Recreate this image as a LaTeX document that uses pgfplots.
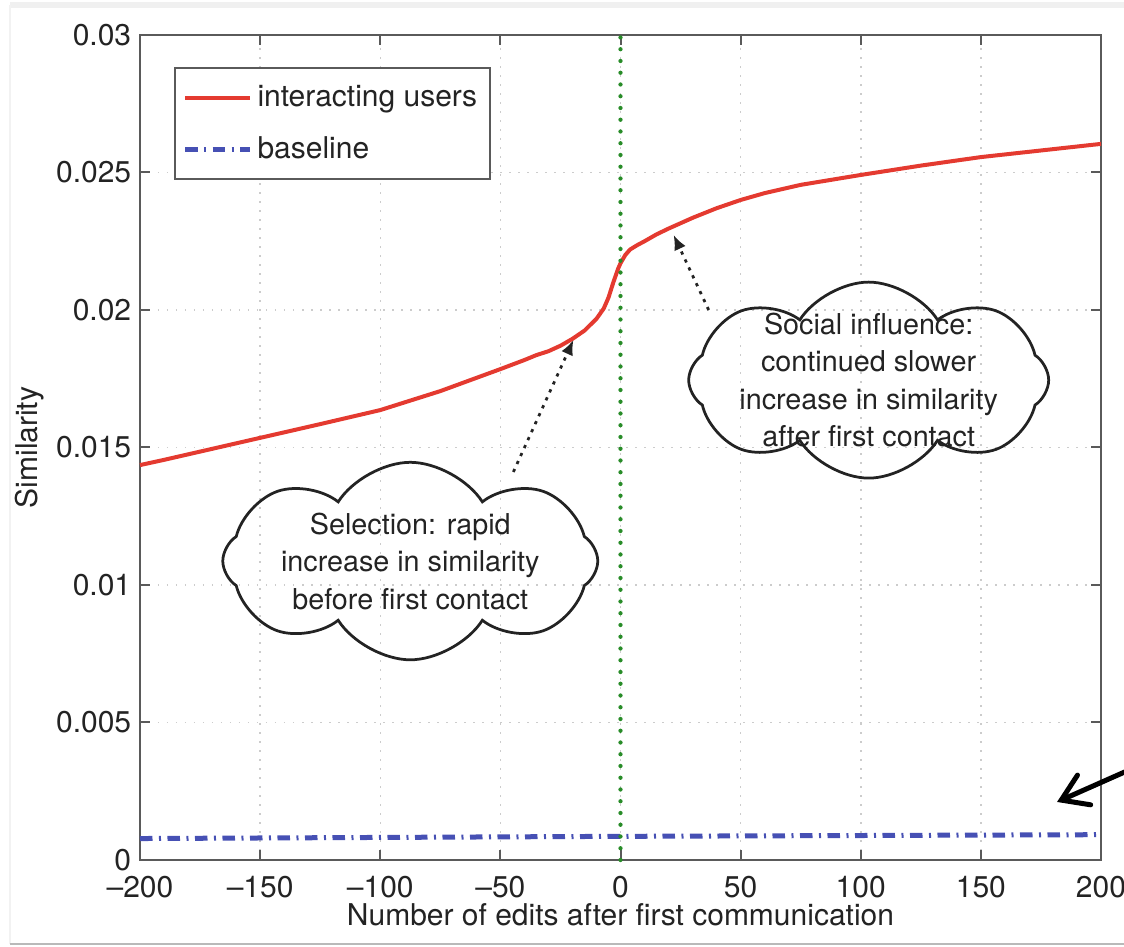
\documentclass[border=0pt]{standalone}
\usepackage{fontspec}
\setmainfont{TeX Gyre Heros}
\usepackage{pgfplots}
\pgfplotsset{compat=1.18}
\usetikzlibrary{shapes.symbols,arrows.meta}

\definecolor{redline}{RGB}{228,58,48}
\definecolor{blueline}{RGB}{70,80,180}
\definecolor{greenline}{RGB}{40,140,40}
\definecolor{axgray}{RGB}{90,90,90}
\definecolor{txt}{RGB}{35,35,35}

\begin{document}
\begin{tikzpicture}
\draw[gray!12, line width=2.4pt] (-52pt,342pt) -- (393.6pt,342pt);
\draw[gray!10, line width=0.8pt] (-52pt,342pt) -- (-52pt,-33.6pt);
\draw[gray!55, line width=1pt] (-52pt,-33.6pt) -- (393.6pt,-33.6pt);

\begin{axis}[
  at={(0pt,0pt)}, anchor=south west,
  scale only axis, width=384.4pt, height=330pt,
  xmin=-200, xmax=200, ymin=0, ymax=0.03,
  clip=false,
  xtick={-200,-150,-100,-50,0,50,100,150,200},
  xticklabels={\textendash200,\textendash150,\textendash100,\textendash50,0,50,100,150,200},
  ytick={0,0.005,0.01,0.015,0.02,0.025,0.03},
  yticklabels={0,0.005,0.01,0.015,0.02,0.025,0.03},
  scaled y ticks=false,
  /pgf/number format/assume math mode=true,
  tick align=inside, major tick length=4pt,
  axis line style={axgray, line width=0.9pt},
  every tick/.style={axgray, line width=0.8pt},
  grid=major,
  major grid style={gray!40, line width=0.6pt, dash pattern=on 0.6pt off 3pt},
  tick label style={font=\fontsize{12}{14}\selectfont, text=txt},
  xticklabel style={yshift=-3pt},
  label style={font=\fontsize{12}{14}\selectfont, text=txt},
  xlabel={Number of edits after first communication},
  ylabel={Similarity},
  xlabel style={at={(axis description cs:0.5,-0.0667)}, anchor=center},
  ylabel style={at={(axis description cs:-0.1145,0.5)}, anchor=center},
  legend image code/.code={\draw[#1] (0pt,0pt) -- (26pt,0pt);},
  legend style={at={(rel axis cs:0.0354,0.961)}, anchor=north west,
    draw=axgray, line width=0.8pt, fill=white,
    font=\fontsize{12}{14}\selectfont, text=txt,
    inner xsep=3pt, inner ysep=4.9pt, row sep=6.4pt, cells={anchor=west}},
]
\addplot[redline, line width=1.6pt, line join=round] coordinates {
(-200,0.01436) (-190,0.01455) (-175,0.01485) (-150,0.01535) (-125,0.01585)
(-100,0.01636) (-75,0.01705) (-50,0.01785) (-40,0.01818) (-35,0.01836)
(-30,0.01850) (-25,0.01870) (-20,0.01895) (-15,0.01925) (-10,0.01968)
(-7,0.02005) (-5,0.02045) (-3,0.02100) (-1,0.02150) (0,0.02170)
(2,0.02200) (4,0.02220) (7,0.02236) (10,0.02250) (15,0.02275)
(20,0.02296) (30,0.02335) (40,0.02370) (50,0.02400) (60,0.02425)
(75,0.02455) (100,0.02491) (125,0.02525) (150,0.02556) (175,0.02580)
(200,0.02604)};
\addlegendentry{interacting users}
\addplot[blueline, line width=2pt, dash pattern=on 5pt off 2.6pt on 0.8pt off 2.6pt] coordinates {
(-200,0.00078) (-100,0.00082) (0,0.00086) (100,0.00089) (200,0.00092)};
\addlegendentry{baseline}
\addplot[greenline, line width=1.7pt, line cap=round, dash pattern=on 0pt off 4.7pt, forget plot] coordinates {(0,0) (0,0.03)};

\node[cloud, draw=txt, line width=1.1pt, cloud puffs=8, cloud puff arc=115,
  cloud ignores aspect, minimum width=150pt, minimum height=79pt, inner sep=0pt]
  at (axis cs:-87.5,0.01087) {};
\node[align=center, font=\fontsize{11.5}{15}\selectfont, text=txt]
  at (axis cs:-87.5,0.01087) {Selection: rapid\\increase in similarity\\before first contact};
\node[cloud, draw=txt, line width=1.1pt, cloud puffs=8, cloud puff arc=115,
  cloud ignores aspect, minimum width=144pt, minimum height=78.4pt, inner sep=0pt]
  at (axis cs:103.3,0.01745) {};
\node[align=center, font=\fontsize{11.5}{15}\selectfont, text=txt]
  at (axis cs:103.3,0.01745) {Social influence:\\continued slower\\increase in similarity\\after first contact};

\draw[txt, line width=1.1pt, dash pattern=on 1.3pt off 2.2pt, -{Latex[length=6pt,width=5pt]}]
  (axis cs:-44.6,0.01411) -- (axis cs:-19.6,0.01891);
\draw[txt, line width=1.1pt, dash pattern=on 1.3pt off 2.2pt, -{Latex[length=6pt,width=5pt]}]
  (axis cs:36.7,0.0200) -- (axis cs:22.1,0.02273);
\draw[black, line width=2pt, line cap=round, -{Straight Barb[length=10pt,width=13pt,line cap=round]}]
  (axis cs:215,0.0034) -- (axis cs:181.7,0.00211);
\end{axis}
\pgfresetboundingbox
\path[use as bounding box] (-56pt,-34.8pt) rectangle (393.6pt,344pt);
\end{tikzpicture}
\end{document}
